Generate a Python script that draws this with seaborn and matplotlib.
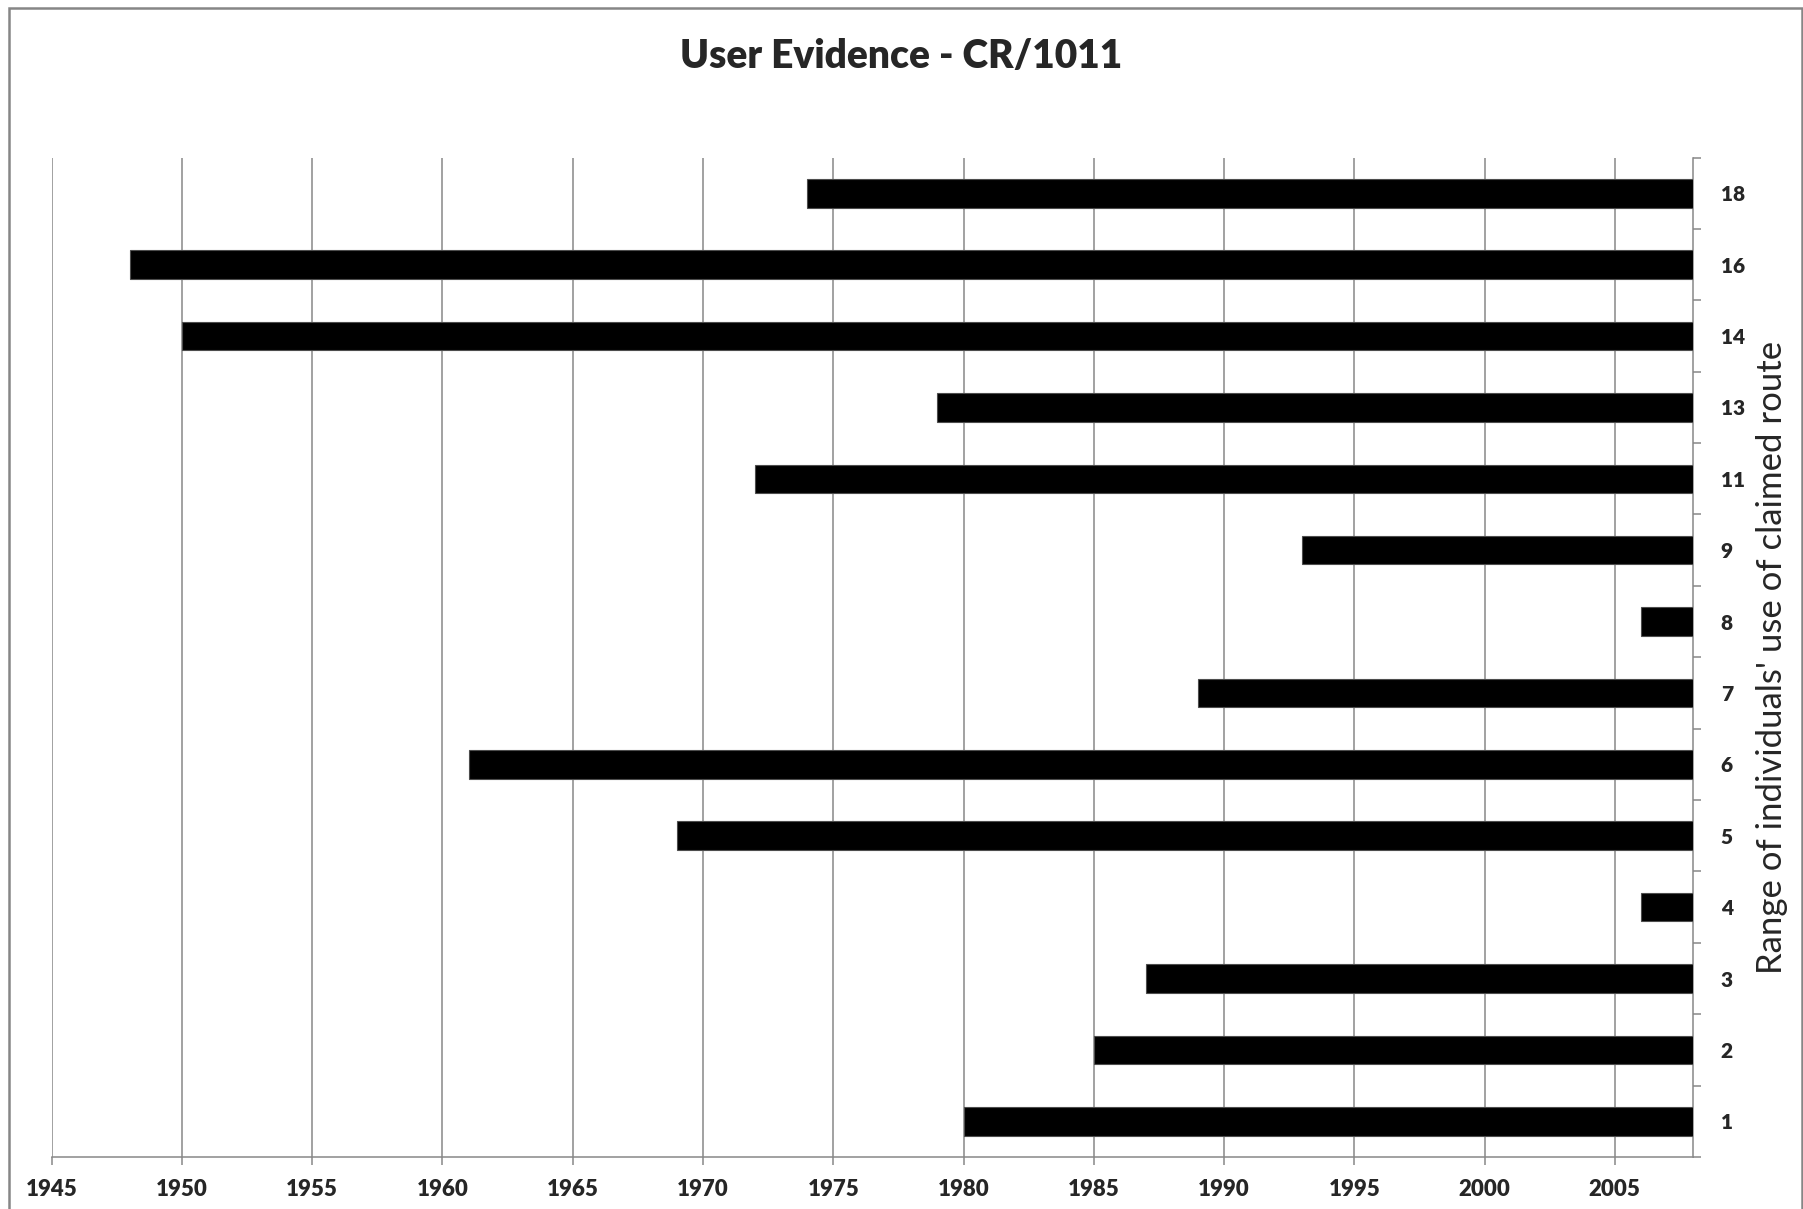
import matplotlib
matplotlib.use("Agg")
import matplotlib.pyplot as plt
from matplotlib.ticker import FixedLocator
from matplotlib.patches import Rectangle
import seaborn as sns
import pandas as pd
import numpy as np

# ---- data (top to bottom as shown) ----
users = ["18", "16", "14", "13", "11", "9", "8", "7", "6", "5", "4", "3", "2", "1"]
start_year = [1974, 1948, 1950, 1979, 1972, 1993, 2006, 1989, 1961, 1969, 2006, 1987, 1985, 1980]
end_year = [2008] * 14
year_ticks = list(range(1945, 2006, 5))

df = pd.DataFrame({"user": users, "start": start_year, "end": end_year})
df["span"] = df["end"] - df["start"]

sns.set_theme(style="white")
plt.rcParams["font.family"] = ["Lato", "DejaVu Sans"]

fig = plt.figure(figsize=(18.03, 12.09), dpi=100)
ax = fig.add_axes([0.02867, 0.0430, 0.9103, 0.8267])

sns.barplot(data=df, x="span", y="user", order=users, orient="h",
            color="black", width=0.4, left=df["start"].to_numpy(),
            edgecolor="#4d4d4d", linewidth=0.8, ax=ax, zorder=3)

ax.set_xlim(1945, 2008)
ax.set_ylim(len(users) - 0.5, -0.5)
ax.set_xticks(year_ticks)
ax.set_xticklabels([str(y) for y in year_ticks], fontsize=16, fontweight="heavy")
ax.xaxis.grid(True, color="#878787", linewidth=1.1)
ax.yaxis.grid(False)
ax.set_axisbelow(True)

ax.yaxis.tick_right()
ax.yaxis.set_label_position("right")
ax.set_yticks(range(len(users)))
ax.set_yticklabels(users, fontsize=15, fontweight="heavy")
ax.yaxis.set_minor_locator(FixedLocator(np.arange(-0.5, len(users), 1.0)))
ax.tick_params(axis="y", which="major", length=0, pad=20)
ax.tick_params(axis="y", which="minor", right=True, left=False, length=6, width=1.1, color="#878787")
ax.tick_params(axis="x", which="major", bottom=True, length=6, width=1.1, color="#878787", pad=10)

ax.set_xlabel("")
ax.set_ylabel("Range of individuals' use of claimed route", fontsize=25, labelpad=8)

for side in ["left", "top"]:
    ax.spines[side].set_visible(False)
for side in ["right", "bottom"]:
    ax.spines[side].set_visible(True)
    ax.spines[side].set_color("#878787")
    ax.spines[side].set_linewidth(1.1)

fig.text(0.5, 1 - 56 / 1209, "User Evidence - CR/1011", ha="center", va="center",
         fontsize=28, fontweight="heavy")

fig.add_artist(Rectangle((9 / 1803, -0.05), 1 - 10 / 1803 - 0.5 / 1803, 1.05 - 8 / 1209,
                         transform=fig.transFigure, fill=False, edgecolor="#868686",
                         linewidth=1.8))

fig.savefig("out.png", dpi=100)
